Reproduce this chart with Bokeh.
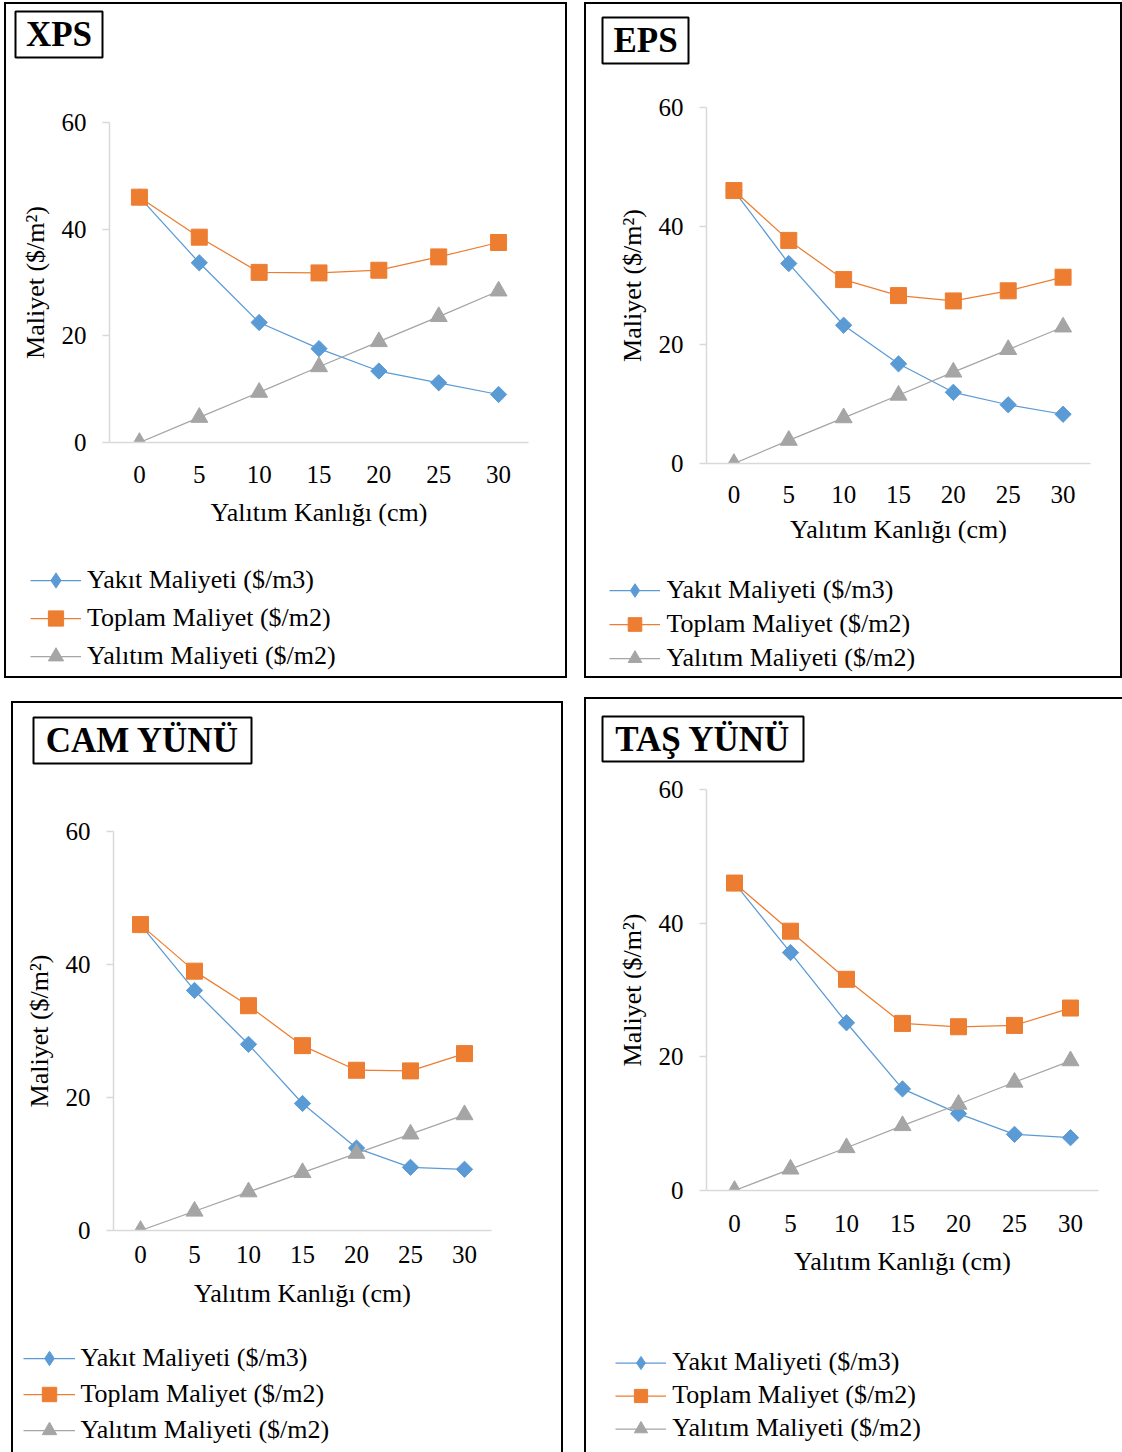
import math

from bokeh.plotting import figure
from bokeh.layouts import column, row
from bokeh.models import (Range1d, FixedTicker, Label, BoxAnnotation, Legend,
                          LegendItem, Spacer)
from bokeh.embed import file_html
from bokeh.resources import INLINE

# Insulation thickness (cm) on the category axis
thickness = [0, 5, 10, 15, 20, 25, 30]
cost_ticks = [0, 20, 40, 60]

series_names = ["Yakıt Maliyeti ($/m3)", "Toplam Maliyet ($/m2)", "Yalıtım Maliyeti ($/m2)"]
x_title = "Yalıtım Kanlığı (cm)"
y_title = "Maliyet ($/m²)"
panel_titles = ["XPS", "EPS", "CAM YÜNÜ", "TAŞ YÜNÜ"]

# Costs per material: fuel, total, insulation
xps_fuel = [46.0, 33.7, 22.5, 17.6, 13.4, 11.2, 9.0]
xps_total = [46.0, 38.5, 31.9, 31.8, 32.3, 34.8, 37.5]
xps_insul = [0.0, 4.7, 9.4, 14.2, 18.9, 23.6, 28.4]

eps_fuel = [46.0, 33.7, 23.3, 16.8, 12.0, 9.9, 8.3]
eps_total = [46.0, 37.6, 31.0, 28.3, 27.4, 29.1, 31.4]
eps_insul = [0.0, 3.9, 7.7, 11.5, 15.4, 19.2, 23.0]

cam_fuel = [46.0, 36.1, 28.0, 19.1, 12.4, 9.5, 9.2]
cam_total = [46.0, 39.0, 33.8, 27.8, 24.1, 24.0, 26.6]
cam_insul = [0.0, 2.9, 5.8, 8.7, 11.6, 14.5, 17.4]

tas_fuel = [46.0, 35.6, 25.1, 15.2, 11.5, 8.4, 7.9]
tas_total = [46.0, 38.8, 31.6, 25.0, 24.5, 24.7, 27.3]
tas_insul = [0.0, 3.2, 6.4, 9.7, 12.9, 16.2, 19.4]

FONT = "Liberation Serif"
BLUE, ORANGE, GRAY = "#5B9BD5", "#ED7D31", "#A5A5A5"
AXIS_GRAY = "#D9D9D9"
INK = "#000000"
NAN = float("nan")

# marker look of the three series: colour, marker, size, rotation, legend marker
series_styles = [
    (BLUE, "square", 11.5, math.pi / 4, "diamond"),
    (ORANGE, "square", 16, 0.0, "square"),
    (GRAY, "triangle", 17, 0.0, "triangle"),
]

SIDES = "inset 2px 0 0 0 #000, inset -2px 0 0 0 #000"
TOP_SIDES = "inset 2px 2px 0 0 #000, inset -2px 0 0 0 #000"
BOTTOM_SIDES = "inset 2px -2px 0 0 #000, inset -2px 0 0 0 #000"

# Pixel geometry of each panel: header strip, chart, legend strip (local coords)
geoms = [
    dict(W=563, head_h=80, chart_h=458, foot_h=138, title_box=(11, 9, 98, 55),
         frame=(105, 523.5, 39.5, 360.3), xtick=23, xlabel=12,
         leg_x=(26, 77), leg_rows=(39, 77, 115.7), leg_h=38,
         edges=(TOP_SIDES, SIDES, BOTTOM_SIDES)),
    dict(W=538, head_h=80, chart_h=483, foot_h=113, title_box=(18, 15, 104, 61),
         frame=(122.4, 505.6, 25.1, 380.7), xtick=22, xlabel=9,
         leg_x=(25.4, 76.2), leg_rows=(24, 58.2, 92.8), leg_h=34,
         edges=(TOP_SIDES, SIDES, BOTTOM_SIDES)),
    dict(W=552, head_h=80, chart_h=549, foot_h=122, title_box=(22, 16, 240, 62),
         frame=(102.5, 480, 49.9, 449.3), xtick=15, xlabel=13,
         leg_x=(11.5, 63.5), leg_rows=(27.2, 63.6, 100), leg_h=36,
         edges=(TOP_SIDES, SIDES, SIDES)),
    dict(W=538, head_h=75, chart_h=528, foot_h=152, title_box=(18, 19, 219, 64),
         frame=(121.6, 513.9, 16.6, 418.5), xtick=24, xlabel=12,
         leg_x=(31.3, 82.4), leg_rows=(62.5, 94.6, 128.1), leg_h=33,
         edges=("inset 2px 2px 0 0 #000", "inset 2px 0 0 0 #000", "inset 2px 0 0 0 #000")),
]


def no_align(p):
    if "frame_align" in p.properties():
        p.frame_align = False


def strip(W, h, edge):
    """A plain figure whose frame fills the whole strip, y measured downwards."""
    p = figure(width=W, height=h, output_backend="svg", toolbar_location=None,
               x_range=Range1d(0, W), y_range=Range1d(h, 0),
               x_axis_location=None, y_axis_location=None,
               min_border=0, outline_line_color=None,
               background_fill_color=None, border_fill_color=None,
               styles={"box-shadow": edge})
    no_align(p)
    p.grid.visible = False
    return p


def header(name, g):
    p = strip(g["W"], g["head_h"], g["edges"][0])
    x0, y0, x1, y1 = g["title_box"]
    p.add_layout(BoxAnnotation(left=x0, right=x1, top=y0, bottom=y1,
                               fill_color="white", fill_alpha=1,
                               line_color=INK, line_alpha=1, line_width=2))
    p.add_layout(Label(x=(x0 + x1) / 2.0, y=(y0 + y1) / 2.0, text=name,
                       text_font=FONT, text_font_size="35px", text_font_style="bold",
                       text_align="center", text_baseline="middle", text_color=INK))
    return p


def chart(fuel, total, insul, g):
    W, H = g["W"], g["chart_h"]
    fl, fr, ft, fb = (round(v) for v in g["frame"])
    p = figure(width=W, height=H, output_backend="svg", toolbar_location=None,
               x_range=Range1d(-2.5, 32.5), y_range=Range1d(0, 60),
               min_border_left=fl, min_border_right=W - fr,
               min_border_top=ft, min_border_bottom=H - fb,
               outline_line_color=None, background_fill_color="white",
               border_fill_color=None, styles={"box-shadow": g["edges"][1]})
    no_align(p)
    p.grid.visible = False

    xa = p.xaxis[0]
    xa.ticker = FixedTicker(ticks=thickness)
    xa.axis_line_color = AXIS_GRAY
    xa.axis_line_width = 1.5
    xa.major_tick_out = 0
    xa.major_tick_in = 0
    xa.minor_tick_out = 0
    xa.minor_tick_in = 0
    xa.major_tick_line_color = None
    xa.minor_tick_line_color = None
    xa.major_label_standoff = g["xtick"]
    xa.major_label_text_font = FONT
    xa.major_label_text_font_size = "25px"
    xa.major_label_text_color = INK
    xa.axis_label = x_title
    xa.axis_label_text_font = FONT
    xa.axis_label_text_font_size = "26px"
    xa.axis_label_text_font_style = "normal"
    xa.axis_label_text_color = INK
    xa.axis_label_standoff = g["xlabel"]

    ya = p.yaxis[0]
    ya.ticker = FixedTicker(ticks=cost_ticks)
    ya.axis_line_color = AXIS_GRAY
    ya.axis_line_width = 1.5
    ya.major_tick_out = 7
    ya.major_tick_in = 0
    ya.major_tick_line_color = AXIS_GRAY
    ya.major_tick_line_width = 1.5
    ya.minor_tick_line_color = None
    ya.major_label_standoff = 16
    ya.major_label_text_font = FONT
    ya.major_label_text_font_size = "25px"
    ya.major_label_text_color = INK
    ya.axis_label = y_title
    ya.axis_label_text_font = FONT
    ya.axis_label_text_font_size = "26px"
    ya.axis_label_text_font_style = "normal"
    ya.axis_label_text_color = INK
    ya.axis_label_standoff = 9

    for vals, (color, marker, size, angle, _) in zip((fuel, total, insul), series_styles):
        p.line(thickness, vals, line_color=color, line_width=1.25)
        p.scatter(thickness, vals, marker=marker, size=size, angle=angle,
                  fill_color=color, line_color=color)
    return p


def footer(g):
    """Legend strip under the chart; its key renderers hold a single NaN point."""
    h = g["foot_h"]
    p = strip(g["W"], h, g["edges"][2])
    items = []
    for label, (color, _, size, _, key_marker) in zip(series_names, series_styles):
        r_line = p.line(x=[NAN, NAN], y=[NAN, NAN], line_color=color, line_width=1.25)
        r_mark = p.scatter(x=[NAN], y=[NAN], marker=key_marker, size=size,
                           fill_color=color, line_color=color)
        items.append(LegendItem(label=label, renderers=[r_line, r_mark]))

    gx0, gx1 = g["leg_x"]
    rows_y = g["leg_rows"]
    gh = g["leg_h"]
    spacing = max(0, round((rows_y[-1] - rows_y[0]) / 2.0 - gh))
    leg_bottom = rows_y[-1] + gh / 2.0
    legend = Legend(items=items, location=(gx0, h - leg_bottom),
                    glyph_width=round(gx1 - gx0), glyph_height=gh, label_height=gh,
                    spacing=spacing, padding=0, margin=0, label_standoff=6,
                    border_line_color=None, background_fill_alpha=0,
                    label_text_font=FONT, label_text_font_size="26px",
                    label_text_color=INK)
    p.add_layout(legend)
    return p


data = [
    (xps_fuel, xps_total, xps_insul),
    (eps_fuel, eps_total, eps_insul),
    (cam_fuel, cam_total, cam_insul),
    (tas_fuel, tas_total, tas_insul),
]

stacks = []
for name, (fuel, total, insul), g in zip(panel_titles, data, geoms):
    stacks.append([header(name, g), chart(fuel, total, insul, g), footer(g)])

top_row = row(
    Spacer(width=4, height=678),
    column(Spacer(width=563, height=2), *stacks[0]),
    Spacer(width=17, height=678),
    column(Spacer(width=538, height=2), *stacks[1]),
)
bottom_row = row(
    Spacer(width=11, height=774),
    column(Spacer(width=552, height=23), *stacks[2]),
    Spacer(width=21, height=774),
    column(Spacer(width=538, height=19), *stacks[3]),
)
page = column(top_row, bottom_row)

with open("out.html", "w", encoding="utf-8") as fh:
    fh.write(file_html(page, INLINE, "Yalıtım Maliyetleri"))
